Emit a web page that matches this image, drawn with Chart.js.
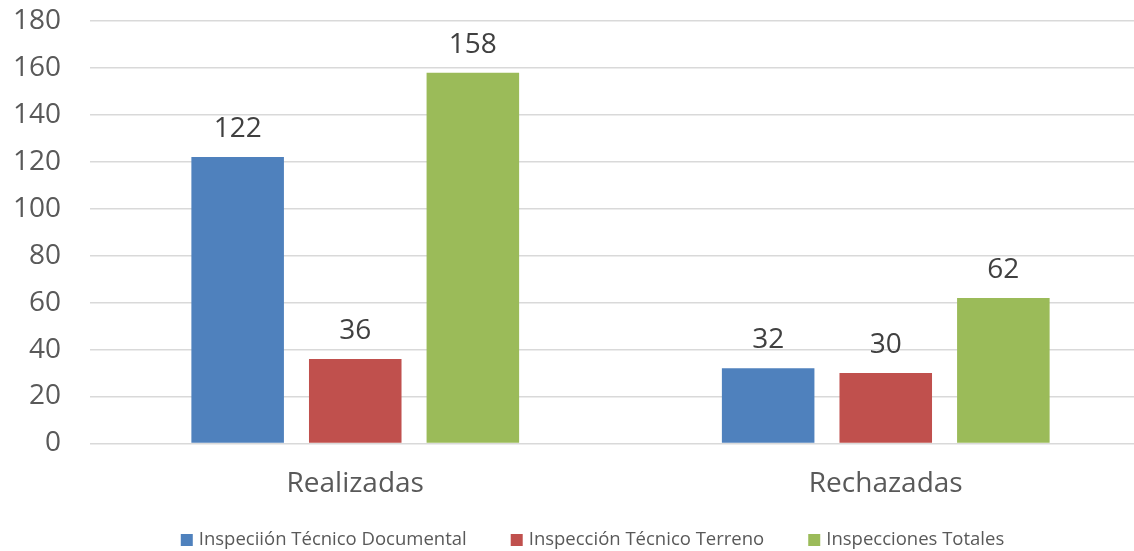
<!DOCTYPE html>
<html>
<head>
<meta charset="utf-8">
<script src="https://cdn.jsdelivr.net/npm/chart.js@4.4.1/dist/chart.umd.min.js"></script>
<style>
  html, body { margin: 0; padding: 0; background: #ffffff; overflow: hidden; }
  #wrap { width: 1185px; height: 551px; }
</style>
</head>
<body>
<div id="wrap"><canvas id="c" width="1185" height="551"></canvas></div>
<script>
const categories = ["Realizadas", "Rechazadas"];
const seriesNames = ["Inspeciión Técnico Documental", "Inspección Técnico Terreno", "Inspecciones Totales"];
const documental = [122, 32];
const terreno = [36, 30];
const totales = [158, 62];
const yTicks = [0, 20, 40, 60, 80, 100, 120, 140, 160, 180];
const colors = ["#4F81BD", "#C0504D", "#9BBB59"];

const FONT = "'Open Sans', 'DejaVu Sans', sans-serif";

const dataLabels = {
  id: "dataLabels",
  afterDatasetsDraw(chart) {
    const ctx = chart.ctx;
    ctx.save();
    ctx.font = "28px " + FONT;
    ctx.fillStyle = "#404040";
    ctx.textAlign = "center";
    ctx.textBaseline = "alphabetic";
    chart.data.datasets.forEach((ds, i) => {
      const meta = chart.getDatasetMeta(i);
      meta.data.forEach((bar, j) => {
        ctx.fillText(String(ds.data[j]), bar.x, bar.y - 20);
      });
    });
    ctx.restore();
  }
};

const bottomLegend = {
  id: "bottomLegend",
  afterDraw(chart) {
    const ctx = chart.ctx;
    const box = 12, gapText = 6, gapItem = 44, cy = 540;
    ctx.save();
    ctx.font = "18.5px " + FONT;
    const items = chart.data.datasets.map(ds => ({
      label: ds.label, color: ds.backgroundColor, w: ctx.measureText(ds.label).width
    }));
    const total = items.reduce((s, it) => s + box + gapText + it.w, 0) + gapItem * (items.length - 1);
    let x = chart.width / 2 - total / 2;
    ctx.textBaseline = "middle";
    ctx.textAlign = "left";
    items.forEach(it => {
      ctx.fillStyle = it.color;
      ctx.fillRect(x, cy - box / 2, box, box);
      ctx.fillStyle = "#595959";
      ctx.fillText(it.label, x + box + gapText, cy);
      x += box + gapText + it.w + gapItem;
    });
    ctx.restore();
  }
};

new Chart(document.getElementById("c"), {
  type: "bar",
  data: {
    labels: categories,
    datasets: [
      { label: seriesNames[0], data: documental, backgroundColor: colors[0] },
      { label: seriesNames[1], data: terreno, backgroundColor: colors[1] },
      { label: seriesNames[2], data: totales, backgroundColor: colors[2] }
    ]
  },
  options: {
    responsive: false,
    animation: false,
    layout: { padding: { top: 21, left: 0, right: 0, bottom: 26 } },
    datasets: { bar: { categoryPercentage: 0.665, barPercentage: 0.787 } },
    plugins: {
      tooltip: { enabled: false },
      legend: { display: false }
    },
    scales: {
      x: {
        grid: { display: false, drawTicks: false },
        border: { display: false },
        ticks: { font: { family: FONT, size: 28 }, color: "#595959", padding: 24 }
      },
      y: {
        min: 0,
        max: 180,
        afterBuildTicks(scale) { scale.ticks = yTicks.map(v => ({ value: v })); },
        afterFit(scale) { scale.width = 90; },
        grid: { color: "#d9d9d9", lineWidth: 1.5, drawTicks: true, tickLength: 29, tickColor: "rgba(0,0,0,0)" },
        border: { display: false },
        ticks: { font: { family: FONT, size: 28 }, color: "#595959", padding: 0 }
      },
      y2: {
        position: "right",
        display: true,
        grid: { display: false, drawTicks: false },
        border: { display: false },
        ticks: { display: false },
        afterFit(scale) { scale.width = 34; }
      }
    }
  },
  plugins: [dataLabels, bottomLegend]
});
</script>
</body>
</html>
